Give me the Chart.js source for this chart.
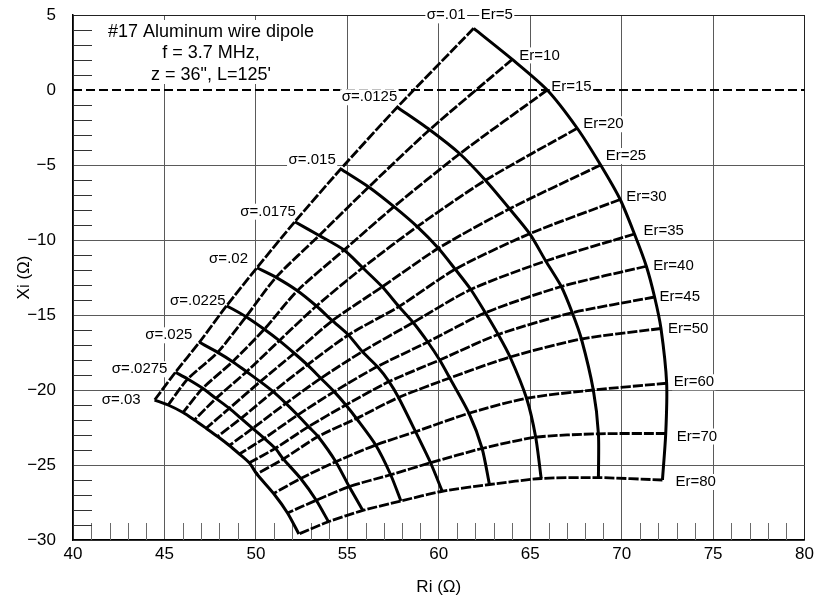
<!DOCTYPE html>
<html>
<head>
<meta charset="utf-8">
<script src="https://cdn.jsdelivr.net/npm/chart.js@4.4.0/dist/chart.umd.min.js"></script>
<style>
html,body{margin:0;padding:0;background:#fff;}
#wrap{width:818px;height:600px;}
</style>
</head>
<body>
<div id="wrap"><canvas id="c" width="818" height="600"></canvas></div>
<script>
// ---- data ----
const erValues = [5, 10, 15, 20, 25, 30, 35, 40, 45, 50, 60, 70, 80];
const sigmaValues = ['.01', '.0125', '.015', '.0175', '.02', '.0225', '.025', '.0275', '.03'];
const titleLines = ['#17 Aluminum wire dipole', 'f = 3.7 MHz,', 'z = 36", L=125\''];

const riS0100 = [61.91, 64.02, 65.93, 67.57, 68.85, 69.92, 70.70, 71.35, 71.80, 72.15, 72.46, 72.41, 72.23];
const xiS0100 = [4.11, 2.04, 0.00, -2.55, -5.00, -7.30, -9.60, -11.75, -13.80, -15.90, -19.55, -22.90, -26.00];
const riS0125 = [57.73, 59.50, 61.15, 62.55, 63.87, 64.97, 65.85, 66.70, 67.30, 67.80, 68.45, 68.73, 68.73];
const xiS0125 = [-1.15, -2.65, -4.25, -6.02, -7.92, -9.58, -11.40, -13.10, -14.85, -16.60, -20.00, -22.92, -25.84];
const riS0150 = [54.64, 56.17, 57.55, 58.82, 59.98, 60.90, 61.75, 62.55, 63.25, 63.90, 64.80, 65.30, 65.60];
const xiS0150 = [-5.27, -6.47, -7.78, -9.11, -10.55, -11.95, -13.30, -14.85, -16.30, -17.80, -20.55, -23.15, -25.90];
const riS0175 = [52.13, 53.46, 54.82, 55.84, 56.91, 57.82, 58.60, 59.40, 60.05, 60.60, 61.65, 62.37, 62.77];
const xiS0175 = [-8.78, -9.70, -10.67, -11.85, -13.12, -14.44, -15.50, -16.80, -18.00, -19.20, -21.55, -23.90, -26.30];
const riS0200 = [50.06, 51.10, 52.27, 53.31, 54.18, 55.06, 55.82, 56.64, 57.28, 57.80, 58.73, 59.55, 60.19];
const xiS0200 = [-11.85, -12.49, -13.38, -14.40, -15.38, -16.33, -17.44, -18.44, -19.44, -20.50, -22.78, -24.85, -26.75];
const riS0225 = [48.40, 49.46, 50.46, 51.28, 52.10, 52.82, 53.55, 54.28, 54.92, 55.50, 56.55, 57.37, 57.93];
const xiS0225 = [-14.38, -15.11, -15.95, -16.71, -17.55, -18.33, -19.22, -20.11, -21.00, -21.90, -23.67, -25.65, -27.40];
const riS0250 = [46.91, 47.91, 48.73, 49.49, 50.24, 50.95, 51.64, 52.28, 52.88, 53.40, 54.37, 55.10, 55.85];
const xiS0250 = [-16.82, -17.49, -18.11, -18.78, -19.44, -20.11, -20.89, -21.67, -22.44, -23.10, -24.78, -26.44, -28.03];
const riS0275 = [45.60, 46.27, 47.09, 47.82, 48.55, 49.19, 49.82, 50.46, 51.06, 51.50, 52.45, 53.30, 53.97];
const xiS0275 = [-18.82, -19.27, -19.89, -20.56, -21.22, -21.89, -22.56, -23.22, -23.89, -24.60, -25.90, -27.35, -28.78];
const riS0300 = [44.46, 45.20, 46.02, 46.64, 47.28, 47.91, 48.55, 49.10, 49.64, 50.05, 50.97, 51.73, 52.35];
const xiS0300 = [-20.67, -21.00, -21.50, -22.00, -22.55, -23.10, -23.70, -24.27, -24.85, -25.60, -26.90, -28.20, -29.60];

// ---- layout / style (not data) ----
const riBySigma = [riS0100, riS0125, riS0150, riS0175, riS0200, riS0225, riS0250, riS0275, riS0300];
const xiBySigma = [xiS0100, xiS0125, xiS0150, xiS0175, xiS0200, xiS0225, xiS0250, xiS0275, xiS0300];
// label offsets in px relative to the anchor point: [dx, dy]
const sigmaLabelOffset = [[-8,-13],[0,-10],[-5,-9],[1,-10],[-9,-9],[-1,-5],[-7,-7],[-8,-3],[-14,0]];
const erLabelOffset = [[7,-13],[7,-4],[4,-3],[6,-4],[5,-9],[6,-3],[9,-3],[7,0],[5,0],[7,0],[7,-1],[11,3],[13,2]];

const FONT = '"Liberation Sans", Arial, Helvetica, sans-serif';

const datasets = [];
erValues.forEach((er, i) => {
  datasets.push({
    label: 'Er=' + er,
    data: sigmaValues.map((s, k) => ({x: riBySigma[k][i], y: xiBySigma[k][i]})),
    showLine: true, borderColor: '#000', borderWidth: 2.8, borderDash: [10, 2],
    pointRadius: 0, tension: 0.25, fill: false
  });
});
sigmaValues.forEach((s, k) => {
  datasets.push({
    label: 'σ=' + s,
    data: erValues.map((er, i) => ({x: riBySigma[k][i], y: xiBySigma[k][i]})),
    showLine: true, borderColor: '#000', borderWidth: 3, pointRadius: 0, tension: 0.25, fill: false
  });
});

function labelBox(ctx, text, x, cy, align) {
  const w = ctx.measureText(text).width;
  const left = align === 'right' ? x - w : x;
  ctx.fillStyle = '#fff';
  ctx.fillRect(left - 1.5, cy - 8, w + 3, 16);
  ctx.fillStyle = '#000';
  ctx.textAlign = align;
  ctx.textBaseline = 'middle';
  ctx.fillText(text, x, cy);
}

const overlay = {
  id: 'overlay',
  beforeDatasetsDraw(chart) {
    const {ctx, chartArea: a, scales: {x, y}} = chart;
    ctx.save();
    // minor ticks
    ctx.strokeStyle = '#6a6a6a';
    ctx.lineWidth = 1;
    for (let v = Math.ceil(x.min); v <= x.max; v++) {
      if (v % 5 === 0) continue;
      const px = Math.round(x.getPixelForValue(v)) + 0.5;
      ctx.beginPath(); ctx.moveTo(px, a.bottom); ctx.lineTo(px, a.bottom - 17); ctx.stroke();
    }
    ctx.strokeStyle = '#333';
    for (let v = Math.ceil(y.min); v <= y.max; v++) {
      if (v % 5 === 0) continue;
      const py = Math.round(y.getPixelForValue(v)) + 0.5;
      ctx.beginPath(); ctx.moveTo(a.left, py); ctx.lineTo(a.left + 19, py); ctx.stroke();
    }
    // zero reference line
    const y0 = y.getPixelForValue(0);
    ctx.strokeStyle = '#000';
    ctx.lineWidth = 2;
    ctx.setLineDash([9, 4]);
    ctx.beginPath(); ctx.moveTo(a.left, y0); ctx.lineTo(a.right, y0); ctx.stroke();
    ctx.setLineDash([]);
    // title block
    ctx.fillStyle = '#fff';
    ctx.fillRect(a.left + 24, a.top + 5, 234, 64);
    ctx.fillStyle = '#000';
    ctx.font = '18px ' + FONT;
    ctx.textAlign = 'center';
    ctx.textBaseline = 'middle';
    const cx = a.left + 138;
    titleLines.forEach((t, i) => ctx.fillText(t, cx, a.top + 17 + i * 21.3));
    // sigma labels (on Er=5 boundary)
    ctx.font = '15px ' + FONT;
    sigmaValues.forEach((s, k) => {
      const px = x.getPixelForValue(riBySigma[k][0]) + sigmaLabelOffset[k][0];
      const py = y.getPixelForValue(xiBySigma[k][0]) + sigmaLabelOffset[k][1];
      labelBox(ctx, 'σ=' + s, px, py, 'right');
    });
    // Er labels (on sigma=.01 boundary)
    erValues.forEach((er, i) => {
      const px = x.getPixelForValue(riS0100[i]) + erLabelOffset[i][0];
      const py = y.getPixelForValue(xiS0100[i]) + erLabelOffset[i][1];
      labelBox(ctx, 'Er=' + er, px, py, 'left');
    });
    ctx.restore();
  }
};

const gridColor = (c) => {
  const v = c.tick.value;
  if (v === 0 && c.scale.axis === 'y') return 'rgba(0,0,0,0)';
  if (v === c.scale.max) return '#222';
  return '#5a5a5a';
};
const minusFmt = (v) => String(v).replace('-', '\u2212');

new Chart(document.getElementById('c').getContext('2d'), {
  type: 'scatter',
  data: {datasets},
  options: {
    responsive: false,
    animation: false,
    events: [],
    layout: {padding: {left: 0, right: 12, top: 15, bottom: 0}},
    plugins: {legend: {display: false}, tooltip: {enabled: false}},
    scales: {
      x: {
        type: 'linear', min: 40, max: 80,
        ticks: {stepSize: 5, color: '#000', padding: 4, font: {family: FONT, size: 17}, callback: minusFmt},
        grid: {color: gridColor, lineWidth: 1, drawTicks: false},
        border: {color: '#000', width: 1.5},
        title: {display: true, text: 'Ri (Ω)', color: '#000', font: {family: FONT, size: 17}, padding: {top: 0, bottom: 2}},
        afterFit: (s) => { s.height = 60; }
      },
      y: {
        type: 'linear', min: -30, max: 5,
        ticks: {stepSize: 5, color: '#000', padding: 17, font: {family: FONT, size: 17}, callback: minusFmt},
        grid: {color: gridColor, lineWidth: 1, drawTicks: false},
        border: {color: '#000', width: 1.5},
        title: {display: true, text: 'Xi (Ω)', color: '#000', font: {family: FONT, size: 17}, padding: {top: 14, bottom: 0}},
        afterFit: (s) => { s.width = 73; s.paddingTop = 10; s.paddingBottom = 10; }
      }
    }
  },
  plugins: [overlay]
});
</script>
</body>
</html>
